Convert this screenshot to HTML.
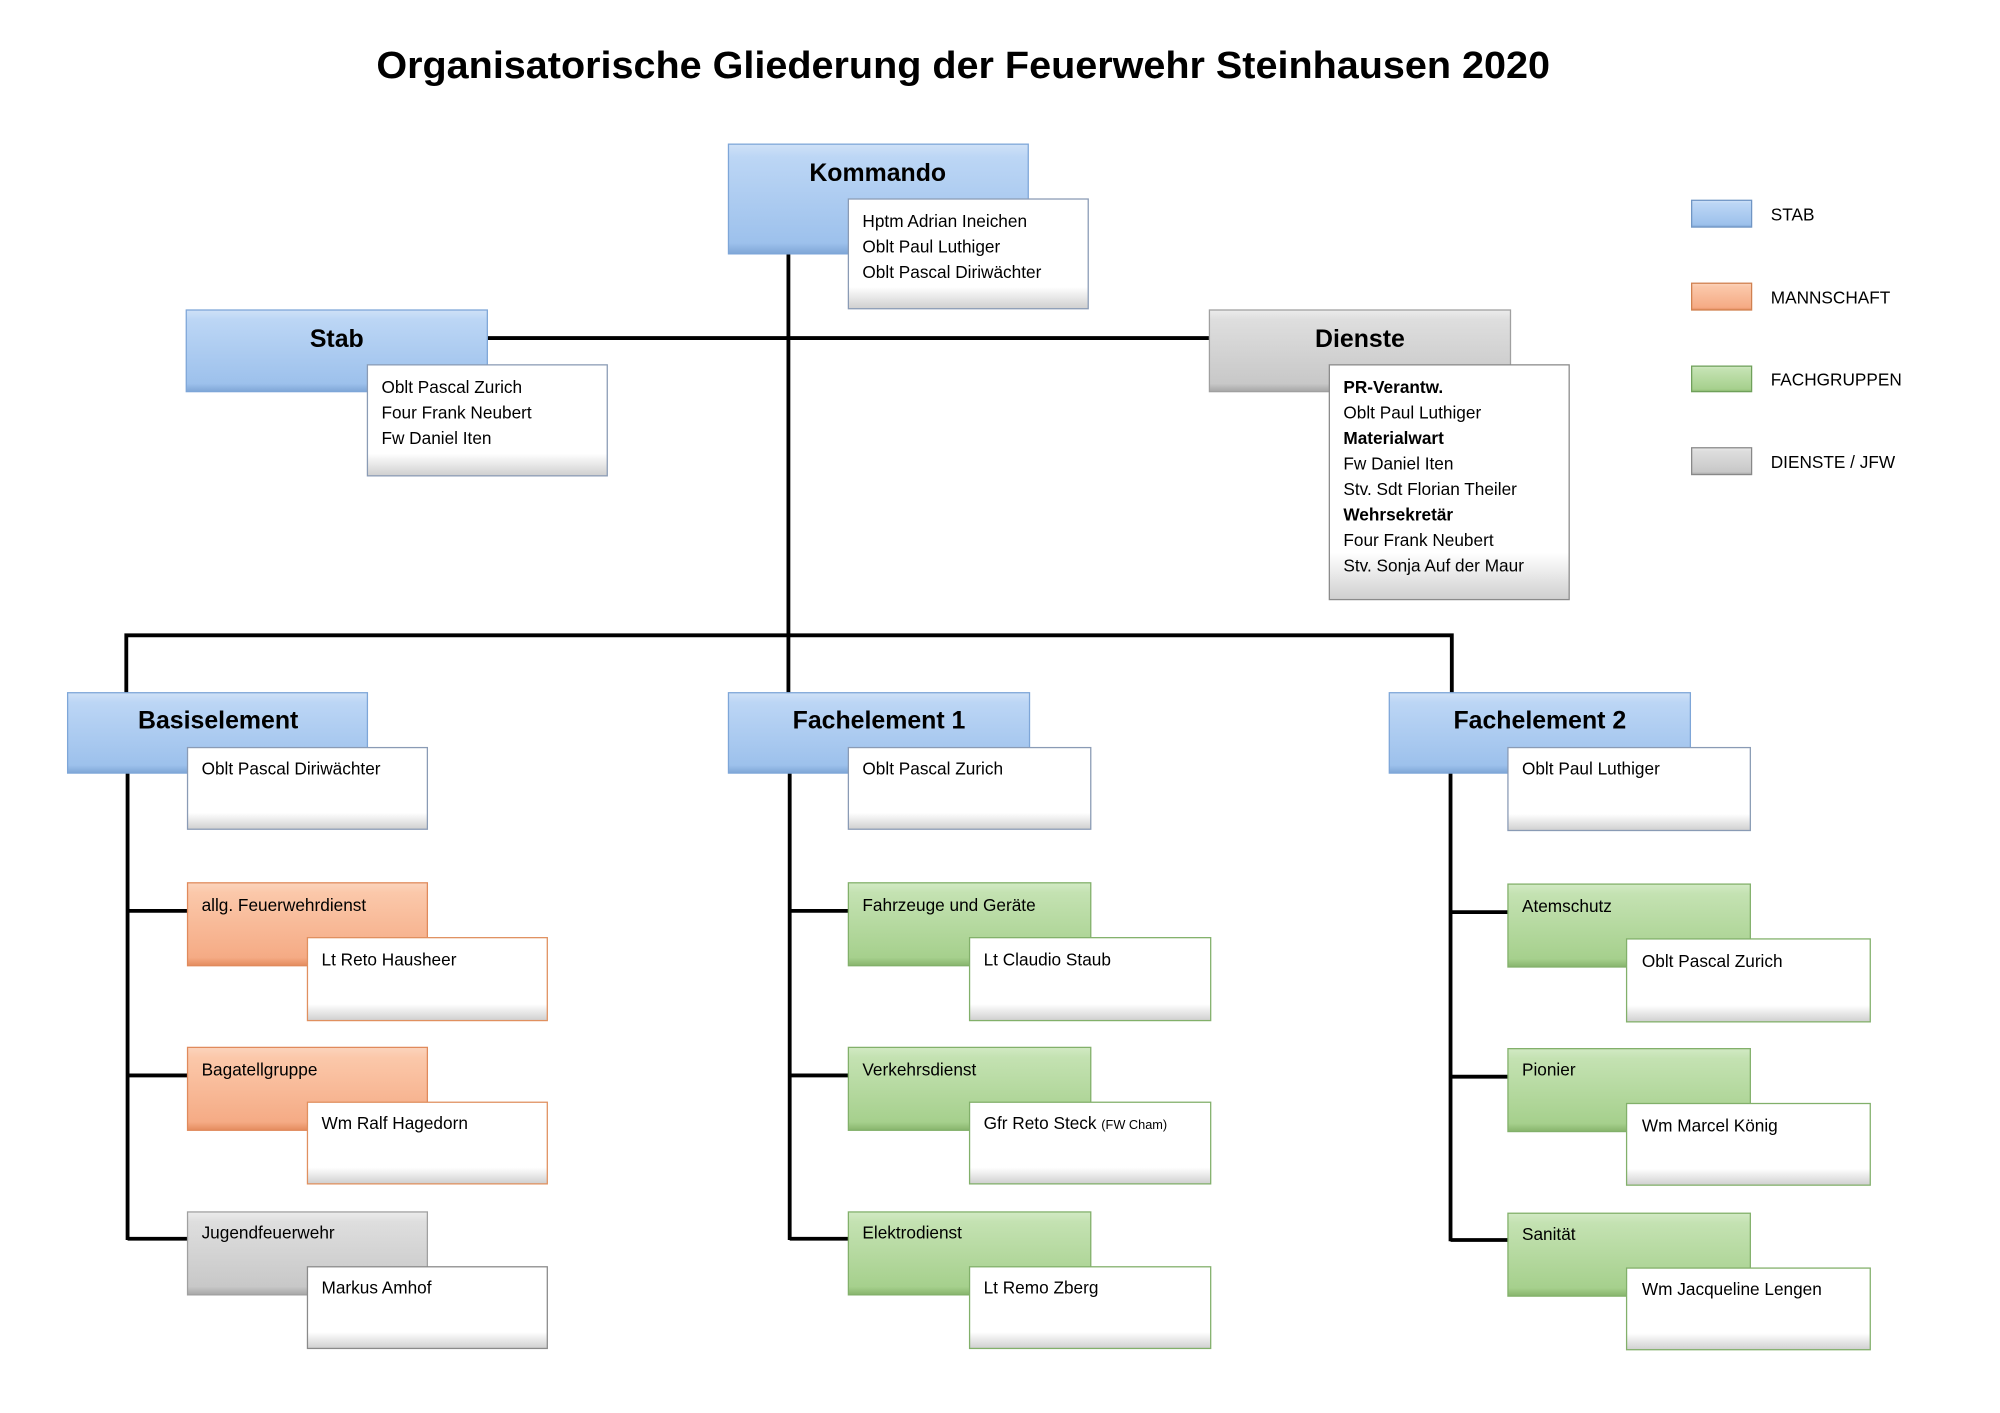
<!DOCTYPE html>
<html><head><meta charset="utf-8"><style>
html,body{margin:0;padding:0;background:#fff;width:2000px;height:1413px;overflow:hidden}
svg{display:block}
text{font-family:"Liberation Sans",sans-serif;fill:#000}
.h{font-size:19.5px;font-weight:bold;text-anchor:middle}
.d{font-size:13.5px}
.b{font-weight:bold}
</style></head><body>
<svg width="2000" height="1413" viewBox="0 0 1567.7 1107.6" preserveAspectRatio="none" xmlns="http://www.w3.org/2000/svg">
<defs>
<linearGradient id="gB" x1="0" y1="0" x2="0" y2="1"><stop offset="0" stop-color="#cfe1f7"/><stop offset="0.12" stop-color="#bcd6f5"/><stop offset="0.9" stop-color="#9dc1ec"/><stop offset="1" stop-color="#7fa6d6"/></linearGradient>
<linearGradient id="gO" x1="0" y1="0" x2="0" y2="1"><stop offset="0" stop-color="#fbd4bd"/><stop offset="0.12" stop-color="#fbc8aa"/><stop offset="0.9" stop-color="#f5ab85"/><stop offset="1" stop-color="#e48b5e"/></linearGradient>
<linearGradient id="gG" x1="0" y1="0" x2="0" y2="1"><stop offset="0" stop-color="#d2eac4"/><stop offset="0.12" stop-color="#c4e2b2"/><stop offset="0.9" stop-color="#a6d08d"/><stop offset="1" stop-color="#87b46c"/></linearGradient>
<linearGradient id="gY" x1="0" y1="0" x2="0" y2="1"><stop offset="0" stop-color="#ececec"/><stop offset="0.12" stop-color="#dedede"/><stop offset="0.9" stop-color="#c8c8c8"/><stop offset="1" stop-color="#a6a6a6"/></linearGradient>
<linearGradient id="gW" x1="0" y1="0" x2="0" y2="1"><stop offset="0" stop-color="#ffffff"/><stop offset="0.8" stop-color="#ffffff"/><stop offset="1" stop-color="#cfcfcf"/></linearGradient>
</defs>

<text x="755" y="61" style="font-size:30px;font-weight:bold;text-anchor:middle" textLength="920" lengthAdjust="spacingAndGlyphs">Organisatorische Gliederung der Feuerwehr Steinhausen 2020</text>

<g stroke="#000" stroke-width="3" fill="none">
<line x1="382" y1="265" x2="948" y2="265"/>
<line x1="618" y1="199" x2="618" y2="543"/>
<polyline points="99,543 99,498 1138,498 1138,543"/>
<line x1="100" y1="606" x2="100" y2="972"/>
<line x1="100" y1="714" x2="147" y2="714"/><line x1="100" y1="843" x2="147" y2="843"/><line x1="100" y1="971" x2="147" y2="971"/>
<line x1="619" y1="606" x2="619" y2="972"/>
<line x1="619" y1="714" x2="665" y2="714"/><line x1="619" y1="843" x2="665" y2="843"/><line x1="619" y1="971" x2="665" y2="971"/>
<line x1="1137" y1="606" x2="1137" y2="973"/>
<line x1="1137" y1="715" x2="1182" y2="715"/><line x1="1137" y1="844" x2="1182" y2="844"/><line x1="1137" y1="972" x2="1182" y2="972"/>
</g>

<rect x="571" y="113" width="235" height="86" fill="url(#gB)" stroke="#7ea6d8"/>
<text class="h" x="688" y="142">Kommando</text>
<rect x="665" y="156" width="188" height="86" fill="url(#gW)" stroke="#8a9bb5"/>
<text class="d" x="676" y="178">Hptm Adrian Ineichen</text>
<text class="d" x="676" y="198">Oblt Paul Luthiger</text>
<text class="d" x="676" y="218">Oblt Pascal Diriwächter</text>

<rect x="146" y="243" width="236" height="64" fill="url(#gB)" stroke="#7ea6d8"/>
<text class="h" x="264" y="272">Stab</text>
<rect x="288" y="286" width="188" height="87" fill="url(#gW)" stroke="#8a9bb5"/>
<text class="d" x="299" y="308">Oblt Pascal Zurich</text>
<text class="d" x="299" y="328">Four Frank Neubert</text>
<text class="d" x="299" y="348">Fw Daniel Iten</text>

<rect x="948" y="243" width="236" height="64" fill="url(#gY)" stroke="#a0a0a0"/>
<text class="h" x="1066" y="272">Dienste</text>
<rect x="1042" y="286" width="188" height="184" fill="url(#gW)" stroke="#8a8a8a"/>
<text class="d b" x="1053" y="308">PR-Verantw.</text>
<text class="d" x="1053" y="328">Oblt Paul Luthiger</text>
<text class="d b" x="1053" y="348">Materialwart</text>
<text class="d" x="1053" y="368">Fw Daniel Iten</text>
<text class="d" x="1053" y="388">Stv. Sdt Florian Theiler</text>
<text class="d b" x="1053" y="408">Wehrsekretär</text>
<text class="d" x="1053" y="428">Four Frank Neubert</text>
<text class="d" x="1053" y="448">Stv. Sonja Auf der Maur</text>

<rect x="53" y="543" width="235" height="63" fill="url(#gB)" stroke="#7ea6d8"/>
<text class="h" x="171" y="571">Basiselement</text>
<rect x="147" y="586" width="188" height="64" fill="url(#gW)" stroke="#8a9bb5"/>
<text class="d" x="158" y="607">Oblt Pascal Diriwächter</text>

<rect x="571" y="543" width="236" height="63" fill="url(#gB)" stroke="#7ea6d8"/>
<text class="h" x="689" y="571">Fachelement 1</text>
<rect x="665" y="586" width="190" height="64" fill="url(#gW)" stroke="#8a9bb5"/>
<text class="d" x="676" y="607">Oblt Pascal Zurich</text>

<rect x="1089" y="543" width="236" height="63" fill="url(#gB)" stroke="#7ea6d8"/>
<text class="h" x="1207" y="571">Fachelement 2</text>
<rect x="1182" y="586" width="190" height="65" fill="url(#gW)" stroke="#8a9bb5"/>
<text class="d" x="1193" y="607">Oblt Paul Luthiger</text>

<rect x="147" y="692" width="188" height="65" fill="url(#gO)" stroke="#e08a5c"/>
<text class="d" x="158" y="714">allg. Feuerwehrdienst</text>
<rect x="241" y="735" width="188" height="65" fill="url(#gW)" stroke="#e0905f"/>
<text class="d" x="252" y="757">Lt Reto Hausheer</text>

<rect x="147" y="821" width="188" height="65" fill="url(#gO)" stroke="#e08a5c"/>
<text class="d" x="158" y="843">Bagatellgruppe</text>
<rect x="241" y="864" width="188" height="64" fill="url(#gW)" stroke="#e0905f"/>
<text class="d" x="252" y="885">Wm Ralf Hagedorn</text>

<rect x="147" y="950" width="188" height="65" fill="url(#gY)" stroke="#a0a0a0"/>
<text class="d" x="158" y="971">Jugendfeuerwehr</text>
<rect x="241" y="993" width="188" height="64" fill="url(#gW)" stroke="#8a8a8a"/>
<text class="d" x="252" y="1014">Markus Amhof</text>

<rect x="665" y="692" width="190" height="65" fill="url(#gG)" stroke="#82b06a"/>
<text class="d" x="676" y="714">Fahrzeuge und Geräte</text>
<rect x="760" y="735" width="189" height="65" fill="url(#gW)" stroke="#82b06a"/>
<text class="d" x="771" y="757">Lt Claudio Staub</text>

<rect x="665" y="821" width="190" height="65" fill="url(#gG)" stroke="#82b06a"/>
<text class="d" x="676" y="843">Verkehrsdienst</text>
<rect x="760" y="864" width="189" height="64" fill="url(#gW)" stroke="#82b06a"/>
<text class="d" x="771" y="885">Gfr Reto Steck <tspan style="font-size:10px">(FW Cham)</tspan></text>

<rect x="665" y="950" width="190" height="65" fill="url(#gG)" stroke="#82b06a"/>
<text class="d" x="676" y="971">Elektrodienst</text>
<rect x="760" y="993" width="189" height="64" fill="url(#gW)" stroke="#82b06a"/>
<text class="d" x="771" y="1014">Lt Remo Zberg</text>

<rect x="1182" y="693" width="190" height="65" fill="url(#gG)" stroke="#82b06a"/>
<text class="d" x="1193" y="715">Atemschutz</text>
<rect x="1275" y="736" width="191" height="65" fill="url(#gW)" stroke="#82b06a"/>
<text class="d" x="1287" y="758">Oblt Pascal Zurich</text>

<rect x="1182" y="822" width="190" height="65" fill="url(#gG)" stroke="#82b06a"/>
<text class="d" x="1193" y="843">Pionier</text>
<rect x="1275" y="865" width="191" height="64" fill="url(#gW)" stroke="#82b06a"/>
<text class="d" x="1287" y="887">Wm Marcel König</text>

<rect x="1182" y="951" width="190" height="65" fill="url(#gG)" stroke="#82b06a"/>
<text class="d" x="1193" y="972">Sanität</text>
<rect x="1275" y="994" width="191" height="64" fill="url(#gW)" stroke="#82b06a"/>
<text class="d" x="1287" y="1015">Wm Jacqueline Lengen</text>

<rect x="1326" y="157" width="47" height="21" fill="url(#gB)" stroke="#6f95c4"/>
<text class="d" x="1388" y="173">STAB</text>
<rect x="1326" y="222" width="47" height="21" fill="url(#gO)" stroke="#d0804f"/>
<text class="d" x="1388" y="238">MANNSCHAFT</text>
<rect x="1326" y="287" width="47" height="20" fill="url(#gG)" stroke="#6fa05a"/>
<text class="d" x="1388" y="302">FACHGRUPPEN</text>
<rect x="1326" y="351" width="47" height="21" fill="url(#gY)" stroke="#888"/>
<text class="d" x="1388" y="367">DIENSTE / JFW</text>
</svg>
</body></html>
